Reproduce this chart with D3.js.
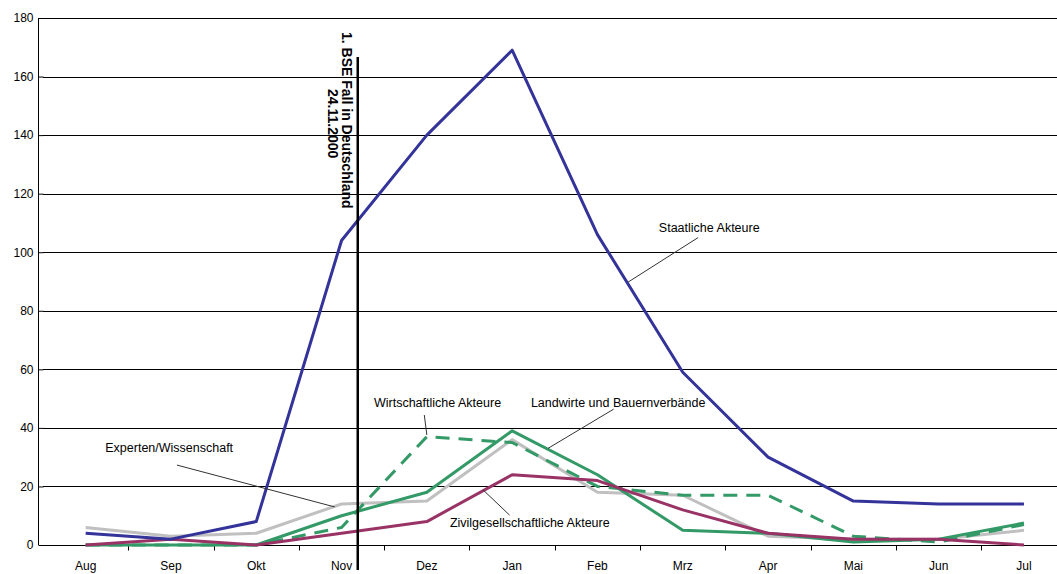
<!DOCTYPE html>
<html>
<head>
<meta charset="utf-8">
<script src="https://cdn.jsdelivr.net/npm/d3@7"></script>
<style>
  body { margin: 0; background: #fff; }
  svg { font-family: "Liberation Sans", Arial, sans-serif; }
</style>
</head>
<body>
<div id="chart"></div>
<script>
// months on the x axis
var months = ["Aug", "Sep", "Okt", "Nov", "Dez", "Jan", "Feb", "Mrz", "Apr", "Mai", "Jun", "Jul"];
var yTicks = [0, 20, 40, 60, 80, 100, 120, 140, 160, 180];

// series values
var staatliche   = [4, 2, 8, 104, 140, 169, 106, 59, 30, 15, 14, 14];
var experten     = [6, 3, 4, 14, 15, 36, 18, 17, 3, 2, 2, 5];
var landwirte    = [0, 0, 0, 10, 18, 39, 24, 5, 4, 1, 2, 7.5];
var wirtschaft   = [0, 0, 0, 6, 37, 35, 20, 17, 17, 3, 1, 7];
var zivil        = [0, 2, 0, 4, 8, 24, 22, 12, 4, 2, 2, 0];

// label texts with their anchor (month index, value) and leader line (month index, value)
var labelNames = ["Staatliche Akteure", "Wirtschaftliche Akteure", "Landwirte und Bauernverbände", "Experten/Wissenschaft", "Zivilgesellschaftliche Akteure"];
var labelPos   = [[6.72, 107], [3.38, 47], [5.22, 47], [0.23, 31.8], [4.27, 6.1]];
var leaderFrom = [[7.18, 105], [3.97, 44.4], [6.19, 46.4], [1.07, 27.3], [4.66, 18.8]];
var leaderTo   = [[6.36, 89.8], [4.0, 37.6], [5.42, 33], [2.92, 13], [4.97, 10.2]];

// date of first BSE case as position on the month axis (24.11.2000)
var bseIndex = 3.19;

var svgWidth = 1057;
var svgHeight = 574;

var margin = { top: 18, bottom: 29, left: 43, right: 0 };
var bandW = 85.3;

var svg = d3.select("#chart")
  .append("svg")
  .attr("width", svgWidth)
  .attr("height", svgHeight);

var xScale = d3.scaleLinear()
  .domain([-0.5, 11.5])
  .range([margin.left, margin.left + 12 * bandW]);

var yScale = d3.scaleLinear()
  .domain([0, 180])
  .range([svgHeight - margin.bottom, margin.top]);

// horizontal grid lines
svg.append("g")
  .selectAll("line")
  .data(yTicks.filter(d => d > 0))
  .enter()
  .append("line")
  .attr("x1", margin.left)
  .attr("x2", svgWidth)
  .attr("y1", d => Math.round(yScale(d)) + 0.5)
  .attr("y2", d => Math.round(yScale(d)) + 0.5)
  .attr("stroke", "#000")
  .attr("stroke-width", 1);

// y axis
var leftAxis = d3.axisLeft(yScale).tickValues(yTicks).tickSize(5).tickPadding(5);
var yAxis = svg.append("g")
  .attr("transform", `translate(${margin.left + 0.5},0)`)
  .call(leftAxis);
yAxis.select(".domain").attr("d", `M-5,${yScale(0)}V${yScale(180)}`);
yAxis.selectAll("text").attr("font-size", 12).attr("fill", "#000")
  .attr("font-family", "Liberation Sans, Arial, sans-serif");

// x axis with ticks between months
var xAxisG = svg.append("g")
  .attr("transform", `translate(0,${Math.round(yScale(0)) + 0.5})`);
xAxisG.append("line")
  .attr("x1", margin.left).attr("x2", svgWidth)
  .attr("stroke", "#000");
xAxisG.selectAll(".tk")
  .data(d3.range(1, 12))
  .enter()
  .append("line")
  .attr("class", "tk")
  .attr("x1", d => Math.round(xScale(d - 0.5)) + 0.5)
  .attr("x2", d => Math.round(xScale(d - 0.5)) + 0.5)
  .attr("y1", 0).attr("y2", 5)
  .attr("stroke", "#000");
xAxisG.selectAll(".lbl")
  .data(months)
  .enter()
  .append("text")
  .attr("class", "lbl")
  .attr("x", (d, i) => xScale(i))
  .attr("y", 24)
  .attr("text-anchor", "middle")
  .attr("font-size", 12)
  .text(d => d);

// line generator
var line = d3.line()
  .x((d, i) => xScale(i))
  .y(d => yScale(d));

function drawSeries(values, color, dash) {
  svg.append("path")
    .datum(values)
    .attr("d", line)
    .attr("fill", "none")
    .attr("stroke", color)
    .attr("stroke-width", 3)
    .attr("stroke-linejoin", "round")
    .attr("stroke-dasharray", dash || null);
}

drawSeries(experten, "#c0c0c0");
drawSeries(landwirte, "#339966");
drawSeries(wirtschaft, "#339966", "14,9");
drawSeries(zivil, "#993366");
drawSeries(staatliche, "#333399");

// leader lines and labels
labelNames.forEach(function(name, i) {
  svg.append("line")
    .attr("x1", xScale(leaderFrom[i][0]))
    .attr("y1", yScale(leaderFrom[i][1]))
    .attr("x2", xScale(leaderTo[i][0]))
    .attr("y2", yScale(leaderTo[i][1]))
    .attr("stroke", "#333")
    .attr("stroke-width", 1);
  svg.append("text")
    .attr("x", xScale(labelPos[i][0]))
    .attr("y", yScale(labelPos[i][1]))
    .attr("font-size", 12.5)
    .attr("fill", "#000")
    .text(name);
});

// BSE marker line
var bseX = xScale(bseIndex);
svg.append("line")
  .attr("x1", bseX).attr("x2", bseX)
  .attr("y1", 57).attr("y2", 570)
  .attr("stroke", "#000")
  .attr("stroke-width", 2.5);

var bseText = svg.append("text")
  .attr("transform", `translate(${bseX - 16},${32}) rotate(90)`)
  .attr("font-size", 14)
  .attr("font-weight", "bold")
  .attr("fill", "#000");
bseText.append("tspan").attr("x", 0).attr("y", 0).text("1. BSE Fall in Deutschland");
bseText.append("tspan").attr("x", 57).attr("y", 14).text("24.11.2000");
</script>
</body>
</html>
